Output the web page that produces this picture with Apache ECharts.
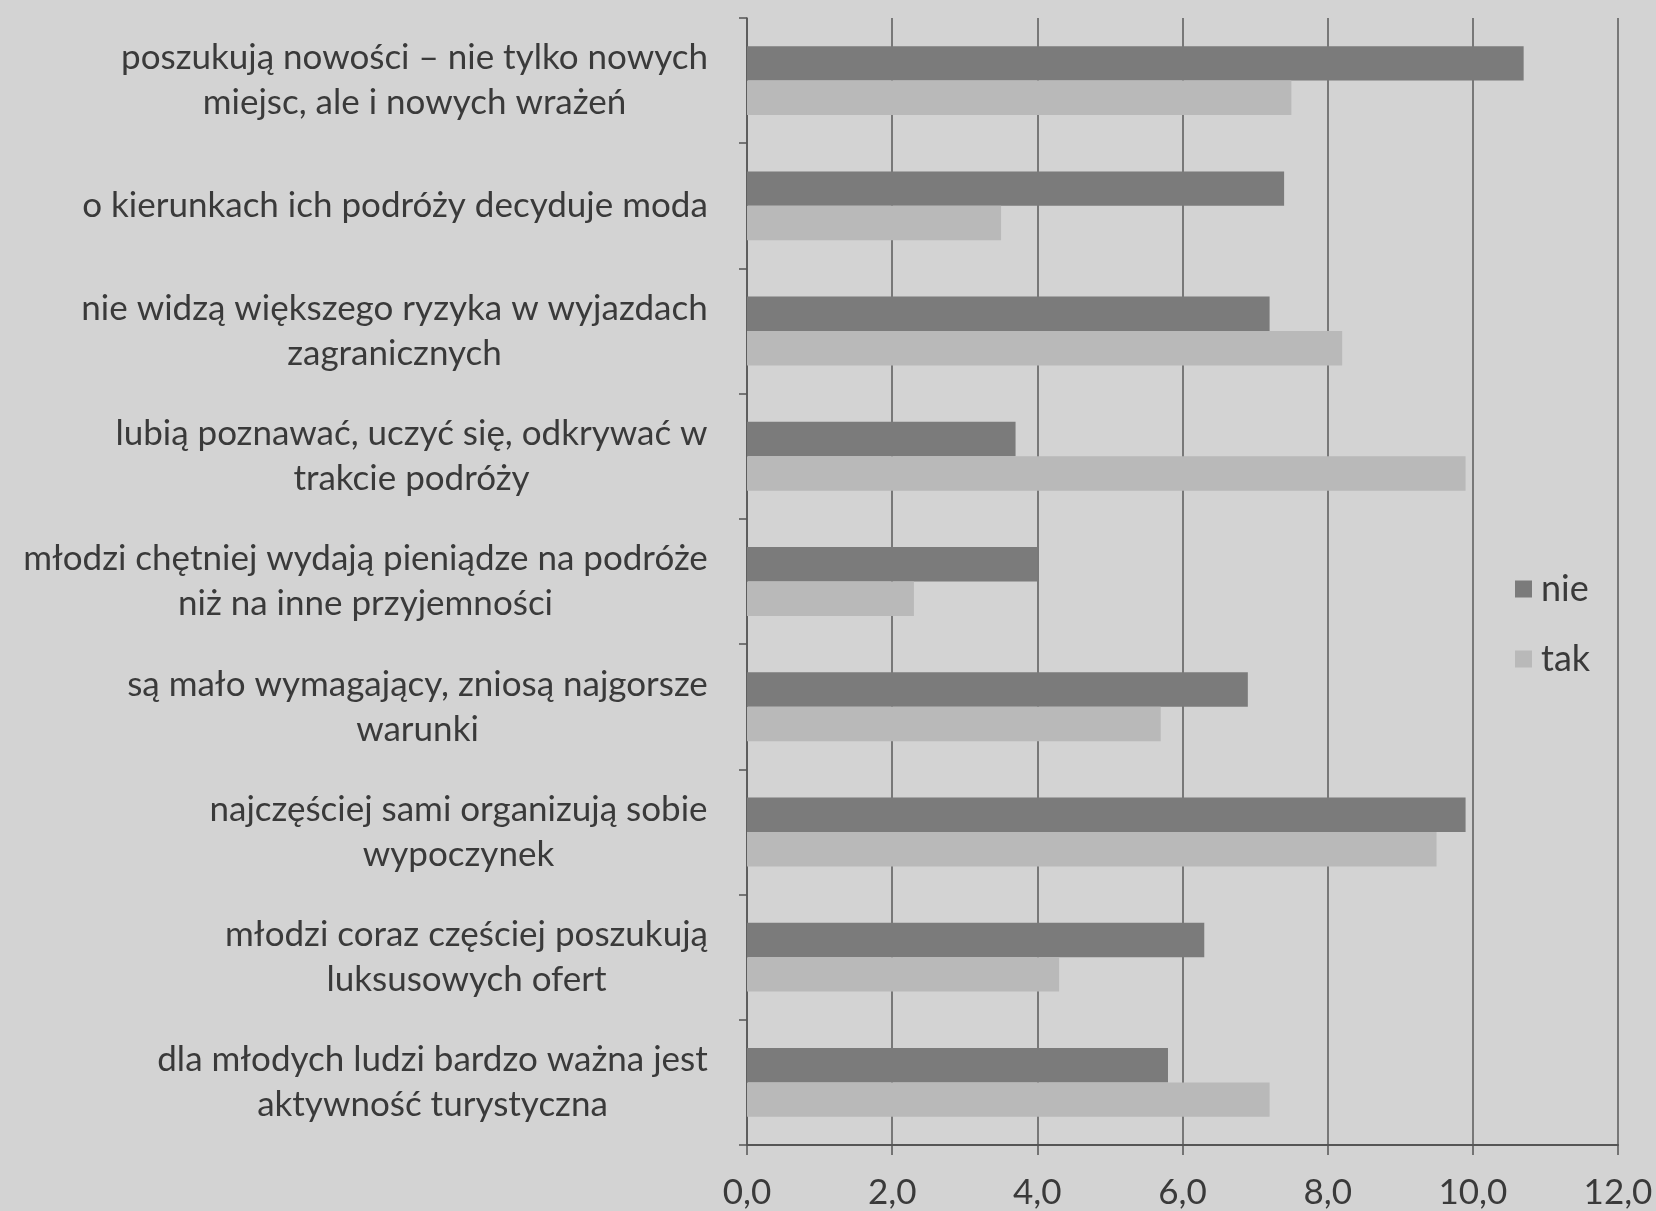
<!DOCTYPE html>
<html>
<head>
    <meta charset="utf-8">
    <title>nie / tak</title>
    <script src="https://cdn.jsdelivr.net/npm/echarts@6/dist/echarts.min.js"></script>
    <style>
        html, body { margin: 0; padding: 0; background: #d3d3d3; }
        #chart { width: 1656px; height: 1211px; }
    </style>
</head>
<body>
    <div id="chart"></div>
    <script type="text/javascript">
        // kategorie (od góry)
        var categories = [
            'poszukują nowości – nie tylko nowych\nmiejsc, ale i nowych wrażeń',
            'o kierunkach ich podróży decyduje moda',
            'nie widzą większego ryzyka w wyjazdach\nzagranicznych',
            'lubią poznawać, uczyć się, odkrywać w\ntrakcie podróży',
            'młodzi chętniej wydają pieniądze na podróże\nniż na inne przyjemności',
            'są mało wymagający, zniosą najgorsze\nwarunki',
            'najczęściej sami organizują sobie\nwypoczynek',
            'młodzi coraz częściej poszukują\nluksusowych ofert',
            'dla młodych ludzi bardzo ważna jest\naktywność turystyczna'
        ];
        var nieValues = [10.7, 7.4, 7.2, 3.7, 4.0, 6.9, 9.9, 6.3, 5.8];
        var takValues = [7.5, 3.5, 8.2, 9.9, 2.3, 5.7, 9.5, 4.3, 7.2];
        var seriesNames = ['nie', 'tak'];

        var textColor = '#3a3a3a';
        var fontFamily = 'Lato, "Noto Sans", sans-serif';
        var labelSize = 35;

        // linie etykiet wyśrodkowane względem najdłuższej linii
        var ctx = document.createElement('canvas').getContext('2d');
        ctx.font = labelSize + 'px ' + fontFamily;
        var rich = {};
        categories.forEach(function (c, i) {
            var w = 0;
            c.split('\n').forEach(function (l) {
                w = Math.max(w, ctx.measureText(l).width);
            });
            rich['c' + i] = {
                width: Math.ceil(w) + 2,
                align: 'center',
                color: textColor,
                fontSize: labelSize,
                lineHeight: 45,
                fontFamily: fontFamily
            };
        });

        var chart = echarts.init(document.getElementById('chart'));
        var option = {
            backgroundColor: '#d3d3d3',
            animation: false,
            grid: {
                left: 747,
                right: 38,
                top: 18,
                bottom: 66
            },
            legend: {
                data: seriesNames,
                orient: 'vertical',
                left: 1510,
                top: 566,
                itemWidth: 17,
                itemHeight: 17,
                itemGap: 34,
                icon: 'rect',
                textStyle: {
                    color: textColor,
                    fontSize: 36,
                    fontFamily: fontFamily,
                    padding: [0, 0, 0, 4]
                }
            },
            xAxis: {
                type: 'value',
                min: 0,
                max: 12,
                interval: 2,
                axisLine: { show: true, lineStyle: { color: '#555', width: 2 } },
                axisTick: { show: true, length: 10, lineStyle: { color: '#555', width: 1.5 } },
                splitLine: { show: true, lineStyle: { color: '#5a5a5a', width: 1.5 } },
                axisLabel: {
                    color: textColor,
                    fontSize: 35,
                    fontFamily: fontFamily,
                    margin: 30,
                    formatter: function (v) {
                        return v.toFixed(1).replace('.', ',');
                    }
                }
            },
            yAxis: {
                type: 'category',
                inverse: true,
                data: categories,
                axisLine: { show: true, lineStyle: { color: '#555', width: 1.5 } },
                axisTick: { show: true, length: 8, lineStyle: { color: '#555', width: 1.5 } },
                axisLabel: {
                    margin: 38,
                    align: 'right',
                    formatter: function (v) {
                        var i = categories.indexOf(v);
                        return v.split('\n').map(function (l) { return '{c' + i + '|' + l + '}'; }).join('\n');
                    },
                    rich: rich
                }
            },
            series: [
                {
                    name: seriesNames[0],
                    type: 'bar',
                    data: nieValues,
                    barGap: '0%',
                    barCategoryGap: '45%',
                    itemStyle: { color: '#7b7b7b' }
                },
                {
                    name: seriesNames[1],
                    type: 'bar',
                    data: takValues,
                    barGap: '0%',
                    barCategoryGap: '45%',
                    itemStyle: { color: '#b9b9b9' }
                }
            ]
        };
        chart.setOption(option);
    </script>
</body>
</html>
